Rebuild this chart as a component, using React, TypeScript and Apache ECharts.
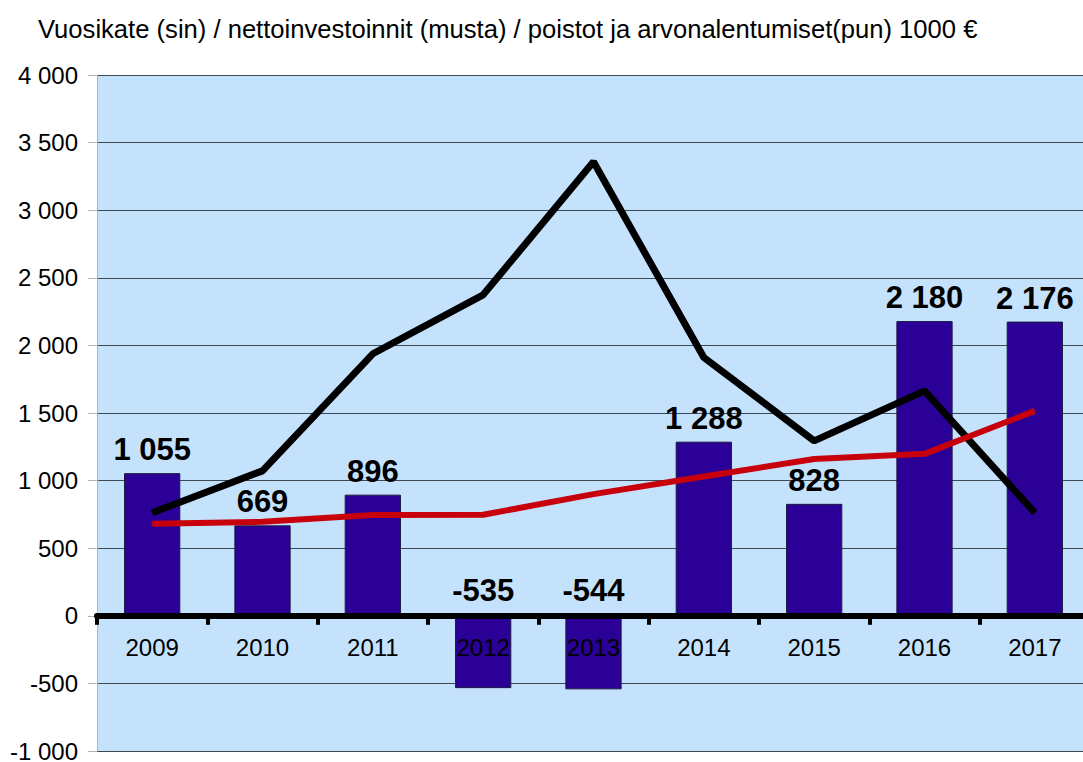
import React, { useEffect, useRef } from "react";
import * as echarts from "echarts";

const titleText =
  "Vuosikate (sin) / nettoinvestoinnit (musta) / poistot ja arvonalentumiset(pun) 1000 €";
const years = ["2009", "2010", "2011", "2012", "2013", "2014", "2015", "2016", "2017"];
const vuosikate = [1055, 669, 896, -535, -544, 1288, 828, 2180, 2176];
const nettoinvestoinnit = [762, 1072, 1938, 2374, 3358, 1910, 1294, 1664, 762];
const poistot = [680, 695, 745, 747, 900, 1030, 1160, 1198, 1516];
const yMin = -1000;
const yMax = 4000;

const fmt = (v: number) => {
  const s = Math.abs(Math.round(v))
    .toString()
    .replace(/\B(?=(\d{3})+(?!\d))/g, " ");
  return (v < 0 ? "-" : "") + s;
};

export default function App() {
  const ref = useRef<HTMLDivElement>(null);
  useEffect(() => {
    document.body.style.margin = "0";
    const chart = echarts.init(ref.current!, null, { renderer: "svg" });
    const gridTop = 75;
    const gridBottom = 11;
    const plotH = 762 - gridTop - gridBottom;
    const zeroOffset = -(plotH * (0 - yMin)) / (yMax - yMin);
    chart.setOption({
      animation: false,
      backgroundColor: "#ffffff",
      textStyle: { fontFamily: "Liberation Sans" },
      title: {
        text: titleText,
        left: 33,
        top: 11,
        textStyle: {
          fontFamily: "Liberation Sans",
          fontSize: 25.6,
          fontWeight: "normal",
          color: "#000",
        },
      },
      grid: {
        left: 97,
        right: -7,
        top: gridTop,
        bottom: gridBottom,
        show: true,
        backgroundColor: "#c5e2fd",
        borderWidth: 0,
        outerBoundsMode: "none",
        containLabel: false,
      },
      xAxis: {
        type: "category",
        data: years,
        z: 5,
        position: "bottom",
        offset: zeroOffset,
        axisLine: { onZero: false, lineStyle: { color: "#000", width: 6 } },
        axisTick: {
          show: true,
          alignWithLabel: false,
          length: 9,
          lineStyle: { color: "#000", width: 4 },
        },
        axisLabel: {
          margin: 20,
          fontSize: 24,
          color: "#000",
          fontFamily: "Liberation Sans",
        },
      },
      yAxis: {
        type: "value",
        min: yMin,
        max: yMax,
        interval: 500,
        axisLine: { show: true, lineStyle: { color: "#b3b3b3", width: 1 } },
        axisTick: { show: true, length: 9, lineStyle: { color: "#b3b3b3" } },
        axisLabel: {
          margin: 19,
          fontSize: 24,
          color: "#000",
          fontFamily: "Liberation Sans",
          formatter: (v: number) => fmt(v),
        },
        splitLine: { show: true, lineStyle: { color: "#3d4a55", width: 1 } },
      },
      series: [
        {
          name: "Vuosikate",
          type: "bar",
          barWidth: "51%",
          z: 2,
          data: vuosikate.map((v) => ({
            value: v,
            label: { distance: v < 0 ? 10 : 8 },
          })),
          itemStyle: { color: "#2a0096", borderColor: "#1a1a40", borderWidth: 1 },
          label: {
            show: true,
            position: "top",
            fontSize: 31,
            fontWeight: "bold",
            color: "#000",
            fontFamily: "Liberation Sans",
            formatter: (p: any) => fmt(p.value),
          },
        },
        {
          name: "Nettoinvestoinnit",
          type: "line",
          z: 6,
          data: nettoinvestoinnit,
          symbol: "none",
          lineStyle: { color: "#000", width: 7 },
        },
        {
          name: "Poistot",
          type: "line",
          z: 7,
          data: poistot,
          symbol: "none",
          lineStyle: { color: "#c8000b", width: 6 },
        },
      ],
    });
    return () => chart.dispose();
  }, []);
  return <div ref={ref} style={{ width: 1083, height: 762 }} />;
}
